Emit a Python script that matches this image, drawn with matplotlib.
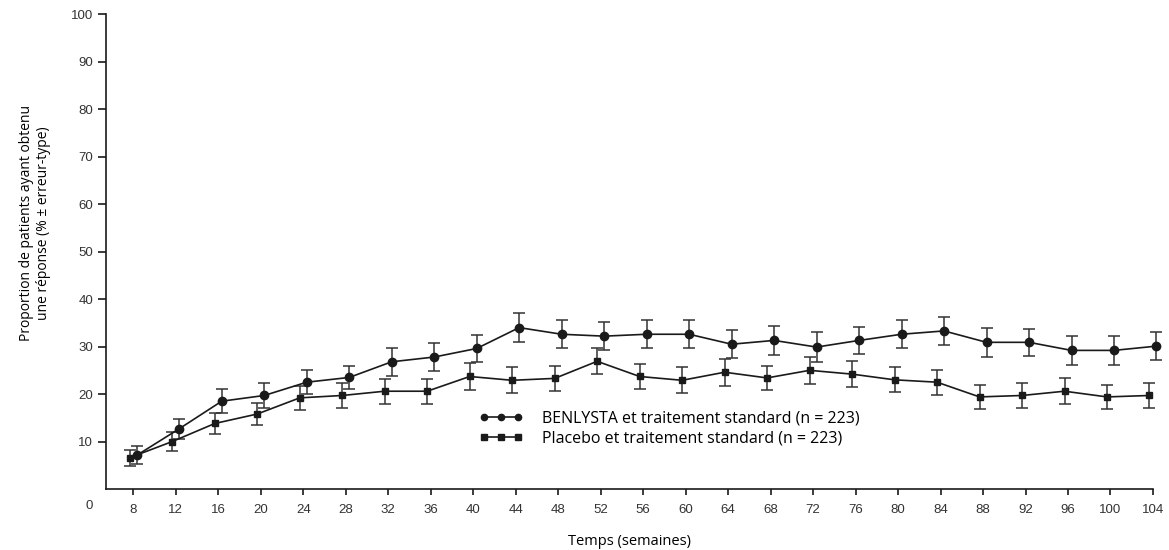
import numpy as np
import matplotlib
matplotlib.use("Agg")
import matplotlib.pyplot as plt
from matplotlib.transforms import ScaledTranslation
from matplotlib.lines import Line2D

# données
semaines = [8, 12, 16, 20, 24, 28, 32, 36, 40, 44, 48, 52, 56, 60, 64,
            68, 72, 76, 80, 84, 88, 92, 96, 100, 104]
benlysta = [7.1, 12.7, 18.5, 19.7, 22.5, 23.5, 26.8, 27.8, 29.6, 34.0, 32.6, 32.2, 32.6,
            32.6, 30.5, 31.3, 29.9, 31.3, 32.6, 33.3, 30.9, 30.9, 29.2, 29.2, 30.1]
benlysta_se = [1.9, 2.1, 2.5, 2.7, 2.5, 2.5, 3.0, 3.0, 2.8, 3.0, 2.9, 3.0, 2.9,
               2.9, 2.9, 3.0, 3.1, 2.8, 2.9, 2.9, 3.0, 2.9, 3.0, 3.0, 3.0]
placebo = [6.6, 10.0, 13.8, 15.8, 19.2, 19.7, 20.6, 20.6, 23.7, 22.9, 23.3, 26.9, 23.7,
           22.9, 24.6, 23.4, 25.0, 24.2, 23.0, 22.5, 19.4, 19.7, 20.6, 19.4, 19.7]
placebo_se = [1.7, 2.0, 2.3, 2.3, 2.6, 2.6, 2.6, 2.6, 2.8, 2.7, 2.7, 2.7, 2.7,
              2.7, 2.8, 2.6, 2.8, 2.7, 2.6, 2.6, 2.6, 2.7, 2.7, 2.6, 2.7]

label_b = "BENLYSTA et traitement standard (n = 223)"
label_p = "Placebo et traitement standard (n = 223)"

fig = plt.figure(figsize=(11.69, 5.5), dpi=100)
ax = fig.add_axes([0.0904, 0.1109, 0.8959, 0.8631])

# léger décalage horizontal entre les deux séries
dx = 3.5 / 100
tr_b = ax.transData + ScaledTranslation(dx, 0, fig.dpi_scale_trans)
tr_p = ax.transData + ScaledTranslation(-dx, 0, fig.dpi_scale_trans)

ax.errorbar(semaines, placebo, yerr=placebo_se, fmt='-s', color='#1a1a1a',
            ecolor='#333333', elinewidth=1.1, capsize=4.5, capthick=1.1,
            markersize=5, linewidth=1.2, transform=tr_p, clip_on=False)
ax.errorbar(semaines, benlysta, yerr=benlysta_se, fmt='-o', color='#1a1a1a',
            ecolor='#333333', elinewidth=1.1, capsize=4.5, capthick=1.1,
            markersize=6, linewidth=1.2, transform=tr_b, clip_on=False)

ax.set_xlim(5.4, 104)
ax.set_ylim(0, 100)
ax.set_xticks(semaines)
ax.set_yticks(range(10, 101, 10))

for s in ['top', 'right']:
    ax.spines[s].set_visible(False)
for s in ['left', 'bottom']:
    ax.spines[s].set_linewidth(1.2)
    ax.spines[s].set_color('#1a1a1a')

ax.tick_params(axis='both', labelsize=9.5, labelcolor='#333333', color='#1a1a1a', width=1.2)
ax.tick_params(axis='y', length=6, pad=3)
ax.tick_params(axis='x', length=4.5, pad=6)
for t in ax.get_xticklabels() + ax.get_yticklabels():
    t.set_family('Liberation Sans')

# « 0 » à l'origine
ax.text(-0.016, -0.036, "0", transform=ax.transAxes, ha='center', va='center',
        fontsize=9.5, color='#333333', family='Liberation Sans')

ax.set_xlabel("Temps (semaines)", family='Open Sans', fontsize=10.5, labelpad=13)
fig.text(0.030, 0.595, "Proportion de patients ayant obtenu\nune réponse (% ± erreur-type)",
         rotation=90, ha='center', va='center', multialignment='center',
         family='Open Sans', fontsize=10)

# légende : ligne avec trois marqueurs, sans barres d'erreur
h_b = Line2D([], [], color='#1a1a1a', marker='o', markersize=4.5, linewidth=1.2)
h_p = Line2D([], [], color='#1a1a1a', marker='s', markersize=4, linewidth=1.2)
ax.legend([h_b, h_p], [label_b, label_p], loc='upper left', bbox_to_anchor=(0.357, 0.165),
          frameon=False, numpoints=3, handlelength=2.7, handletextpad=1.2,
          labelspacing=0.25, borderaxespad=0, borderpad=0,
          prop={'family': 'Open Sans', 'size': 11.5})

fig.savefig("out.png", dpi=100)
